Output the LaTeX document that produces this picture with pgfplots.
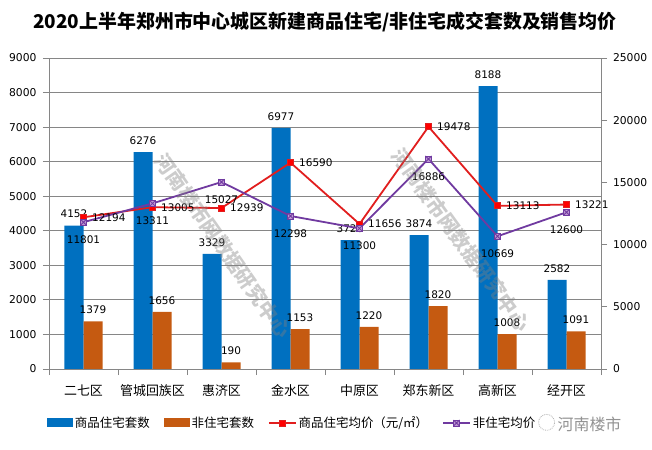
\documentclass[border=0pt]{standalone}
\usepackage{fontspec}
\setmainfont{DejaVu Sans}
\newfontfamily\cjk{Noto Sans CJK SC}
\usepackage{pgfplots}
\usepackage{pgfplotstable}
\pgfplotsset{compat=1.18}

\definecolor{barblue}{RGB}{0,112,192}
\definecolor{barorange}{RGB}{197,90,17}
\definecolor{linered}{RGB}{225,30,30}
\definecolor{linepurple}{RGB}{112,58,160}
\definecolor{purplefill}{RGB}{190,150,210}
\definecolor{gridgray}{RGB}{134,134,134}

% square with a cross, for the second price line
\pgfdeclareplotmark{boxx}{%
  \pgfpathrectangle{\pgfpoint{-\pgfplotmarksize}{-\pgfplotmarksize}}{\pgfpoint{2\pgfplotmarksize}{2\pgfplotmarksize}}%
  \pgfusepathqfillstroke
  \pgfpathmoveto{\pgfpoint{-\pgfplotmarksize}{-\pgfplotmarksize}}%
  \pgfpathlineto{\pgfpoint{\pgfplotmarksize}{\pgfplotmarksize}}%
  \pgfpathmoveto{\pgfpoint{-\pgfplotmarksize}{\pgfplotmarksize}}%
  \pgfpathlineto{\pgfpoint{\pgfplotmarksize}{-\pgfplotmarksize}}%
  \pgfusepathqstroke}

\pgfplotsset{
  barlegend/.style={legend image code/.code={\fill[##1] (0bp,-4.5bp) rectangle (26bp,4.5bp);}},
  linelegend/.style={legend image code/.code={\draw[mark repeat=2,mark phase=2,##1] plot coordinates {(0bp,0bp) (13.5bp,0bp) (27bp,0bp)};}},
}

% x  res  nonres  resprice  nonresprice
\pgfplotstableread{
x res nonres resprice nonresprice
0 4152 1379 12194 11801
1 6276 1656 13005 13311
2 3329 190  12939 15027
3 6977 1153 16590 12298
4 3728 1220 11656 11300
5 3874 1820 19478 16886
6 8188 1008 13113 10669
7 2582 1091 13221 12600
}\data

\begin{document}
\begin{tikzpicture}
\useasboundingbox (-49bp,-81bp) rectangle (603bp,369bp);

\begin{axis}[
    scale only axis,
    width=552bp, height=311bp,
    xmin=-0.5, xmax=7.5,
    ymin=0, ymax=9000,
    ybar=0pt, bar width=19bp,
    ytick={0,1000,...,9000},
    scaled y ticks=false,
    xtick={-0.5,0.5,...,7.5},
    xticklabels={},
    extra x ticks={0,...,7},
    extra x tick labels={二七区,管城回族区,惠济区,金水区,中原区,郑东新区,高新区,经开区},
    extra x tick style={major tick length=0pt},
    x tick label style={font=\cjk\fontsize{13}{15}\selectfont, yshift=-12bp},
    y tick label style={font=\fontsize{10.8}{12}\selectfont, xshift=-3bp},
    /pgf/number format/assume math mode=true,
    /pgf/number format/1000 sep={},
    tick align=outside,
    major tick length=6bp,
    xtick pos=bottom, ytick pos=left,
    tick style={draw=gridgray, line width=0.8bp},
    axis line style={draw=gridgray, line width=0.8bp},
    ymajorgrids, grid style={draw=gridgray, line width=0.8bp},
    nodes near coords,
    point meta=explicit symbolic,
    every node near coord/.append style={font=\fontsize{10.5}{12}\selectfont, text=black, yshift=4bp},
]
\addplot[fill=barblue, draw=none] table[x=x, y=res, meta=res] {\data};
\addplot[fill=barorange, draw=none] table[x=x, y=nonres, meta=nonres] {\data};
\end{axis}

\begin{axis}[
    scale only axis,
    width=552bp, height=311bp,
    xmin=-0.5, xmax=7.5,
    ymin=0, ymax=25000,
    hide x axis,
    axis y line*=right,
    ytick={0,5000,...,25000},
    scaled y ticks=false,
    y tick label style={font=\fontsize{10.8}{12}\selectfont, xshift=2.5bp},
    /pgf/number format/assume math mode=true,
    /pgf/number format/1000 sep={},
    tick align=outside,
    major tick length=6bp,
    tick style={draw=gridgray, line width=0.8bp},
    axis line style={draw=gridgray, line width=0.8bp},
    point meta=explicit symbolic,
    legend style={at={(-0.004,-0.1736)}, anchor=west, draw=none, fill=none, inner sep=0pt,
                  font=\cjk\fontsize{12.5}{14}\selectfont,
                  /tikz/every even column/.append style={column sep=12bp}},
    legend columns=4,
    legend cell align=left,
]
\addlegendimage{barlegend, fill=barblue, draw=none}
\addlegendentry{商品住宅套数}
\addlegendimage{barlegend, fill=barorange, draw=none}
\addlegendentry{非住宅套数}

\addplot[linered, line width=1.8bp, mark=square*, mark size=3bp,
    mark options={fill=red, draw=linered, line width=0.8bp},
    linelegend,
    nodes near coords,
    every node near coord/.append style={font=\fontsize{10.5}{12}\selectfont, text=black, anchor=west, xshift=5bp}]
    table[x=x, y=resprice, meta=resprice] {\data};
\addlegendentry{商品住宅均价（元/㎡）}

\addplot[linepurple, line width=1.8bp, mark=boxx, mark size=3bp,
    mark options={fill=purplefill, draw=linepurple, line width=0.8bp},
    linelegend,
    nodes near coords,
    every node near coord/.append style={font=\fontsize{10.5}{12}\selectfont, text=black, anchor=north, yshift=-10bp}]
    table[x=x, y=nonresprice, meta=nonresprice] {\data};
\addlegendentry{非住宅均价（元/㎡）}
\end{axis}

% title
\node[font=\cjk\bfseries\fontsize{19}{23}\selectfont] at (276bp,347bp)
  {2020上半年郑州市中心城区新建商品住宅/非住宅成交套数及销售均价};

% watermarks
\node[font=\cjk\bfseries\fontsize{20}{24}\selectfont, text=gray, opacity=0.4, rotate=-55]
  at (174bp,123bp) {河南楼市网数据研究中心};
\node[font=\cjk\bfseries\fontsize{20}{24}\selectfont, text=gray, opacity=0.4, rotate=-54]
  at (412bp,129bp) {河南楼市网数据研究中心};

% logo over the end of the legend
\node[fill=white, inner sep=1bp, anchor=west, font=\cjk\fontsize{16}{18}\selectfont, text=gray!85]
  at (488bp,-54bp) {\tikz\draw[gray!60, densely dotted, line width=0.8bp] (0,0) circle (8bp);\,河南楼市};
\end{tikzpicture}
\end{document}
